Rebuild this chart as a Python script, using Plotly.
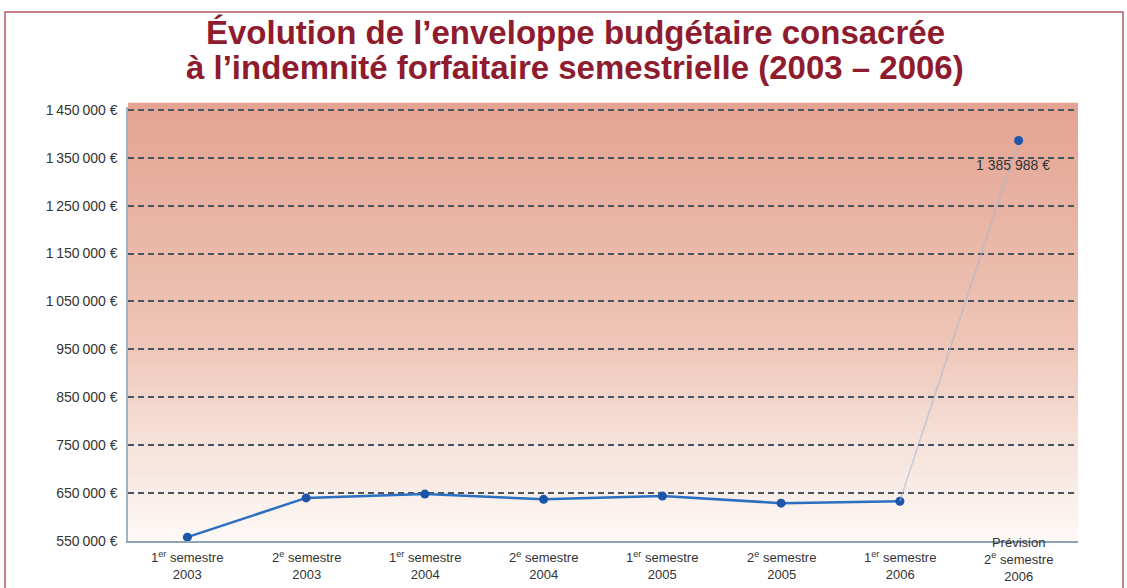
import plotly.graph_objects as go

# ---- data ----
periods = ["1er semestre 2003", "2e semestre 2003", "1er semestre 2004", "2e semestre 2004",
           "1er semestre 2005", "2e semestre 2005", "1er semestre 2006", "Prévision 2e semestre 2006"]
period_labels = ["1<sup>er</sup> semestre<br>2003", "2<sup>e</sup> semestre<br>2003",
                 "1<sup>er</sup> semestre<br>2004", "2<sup>e</sup> semestre<br>2004",
                 "1<sup>er</sup> semestre<br>2005", "2<sup>e</sup> semestre<br>2005",
                 "1<sup>er</sup> semestre<br>2006", "Prévision<br>2<sup>e</sup> semestre<br>2006"]
budget = [558000, 640000, 648000, 637000, 644000, 629000, 633000, 1385988]
forecast_label = "1 385 988 €"
y_ticks = [550000, 650000, 750000, 850000, 950000, 1050000, 1150000, 1250000, 1350000, 1450000]
y_ticktext = ["550\u202f000 €", "650\u202f000 €", "750\u202f000 €", "850\u202f000 €", "950\u202f000 €",
              "1\u202f050\u202f000 €", "1\u202f150\u202f000 €", "1\u202f250\u202f000 €",
              "1\u202f350\u202f000 €", "1\u202f450\u202f000 €"]
title_lines = ["Évolution de l’enveloppe budgétaire consacrée",
               "à l’indemnité forfaitaire semestrielle (2003 – 2006)"]

xs = list(range(len(periods)))
fig = go.Figure()

# background gradient (top reddish -> bottom white)
stops = [(0.0, (228, 163, 146)), (0.55, (238, 198, 183)), (0.78, (246, 226, 218)), (1.0, (253, 249, 247))]
def col(t):
    for (t0, c0), (t1, c1) in zip(stops[:-1], stops[1:]):
        if t0 <= t <= t1:
            f = (t - t0) / (t1 - t0)
            return "rgb(%d,%d,%d)" % tuple(round(a + (b - a) * f) for a, b in zip(c0, c1))
    return "rgb(%d,%d,%d)" % stops[-1][1]
n = 110
top = 1.01
shapes = []
for i in range(n):
    t = (i + 0.5) / n
    shapes.append(dict(type="rect", xref="paper", yref="paper", x0=0, x1=1,
                       y0=max(0, top - (i + 1.6) * top / n), y1=top - i * top / n,
                       fillcolor=col(t), line=dict(width=0), layer="below"))
# outer frame
shapes.append(dict(type="rect", xref="paper", yref="paper", x0=-0.1295, x1=1.0474, y0=-0.2, y1=1.2189,
                   line=dict(color="#b85a66", width=1.5), fillcolor="rgba(0,0,0,0)", layer="above"))

fig.add_trace(go.Scatter(x=xs[:7], y=budget[:7], mode="lines+markers",
                         line=dict(color="#2a6fc0", width=2.5),
                         marker=dict(color="#1d55a8", size=9), showlegend=False, cliponaxis=False))
fig.add_trace(go.Scatter(x=xs[6:], y=budget[6:], mode="lines",
                         line=dict(color="rgba(160,185,210,0.6)", width=1.5), showlegend=False))
fig.add_trace(go.Scatter(x=xs[7:], y=budget[7:], mode="markers",
                         marker=dict(color="#1d55a8", size=9), showlegend=False))

annotations = []
for x, lab in zip(xs, period_labels):
    three = lab.count("<br>") == 2
    annotations.append(dict(x=x, y=0, xref="x", yref="paper", text=lab, showarrow=False,
                            xanchor="center", yanchor="top", yshift=8 if three else -6,
                            font=dict(size=13, color="#333333", family="Liberation Sans, Arial")))
annotations.append(dict(x=xs[7], y=budget[7], xref="x", yref="y", text=forecast_label, showarrow=False,
                        xanchor="center", yanchor="middle", yshift=-24, xshift=-6,
                        font=dict(size=14, color="#333333", family="Liberation Sans, Arial")))
for yy, line in zip([1.172, 1.092], title_lines):
    annotations.append(dict(x=0.5 - 28 / 950, y=yy, xref="paper", yref="paper", text="<b>%s</b>" % line,
                            showarrow=False, xanchor="center", yanchor="middle", borderpad=0,
                            font=dict(size=33, color="#8e1b2e", family="Liberation Sans, Arial")))

fig.update_layout(
    width=1127, height=588,
    margin=dict(l=128, r=49, t=107, b=47),
    paper_bgcolor="white", plot_bgcolor="white",
    xaxis=dict(range=[-0.5, 7.5], showticklabels=False, showgrid=False, zeroline=False,
               showline=True, linecolor="#8ea3b5", linewidth=2, ticks=""),
    yaxis=dict(range=[550000, 1456000], tickvals=y_ticks, ticktext=y_ticktext,
               showgrid=True, gridcolor="#4a5560", griddash="6px,4px", gridwidth=2,
               zeroline=False, showline=True, linecolor="#9fb3c3", linewidth=1.5,
               tickfont=dict(size=14, color="#333333", family="Liberation Sans, Arial"), ticks="",
               ticklabelstandoff=6),
    shapes=shapes, annotations=annotations,
)
fig.write_html("out.html", config={"displayModeBar": False},
               post_script="document.body.style.margin='0';")
